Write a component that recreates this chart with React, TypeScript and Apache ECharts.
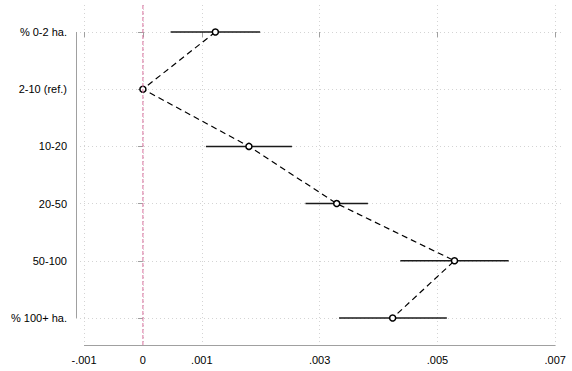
import React, { useEffect, useRef } from "react";
import * as echarts from "echarts";

const categories = ["% 0-2 ha.", "2-10 (ref.)", "10-20", "20-50", "50-100", "% 100+ ha."];
const estimates = [0.00123, 0, 0.0018, 0.00329, 0.00529, 0.00424];
const ciLow = [0.00047, null, 0.00107, 0.00276, 0.00437, 0.00333];
const ciHigh = [0.00199, null, 0.00253, 0.00382, 0.00621, 0.00516];
const xTicks = [-0.001, 0, 0.001, 0.003, 0.005, 0.007];
const xTickLabels = ["-.001", "0", ".001", ".003", ".005", ".007"];

const X_MIN = -0.001136;
const X_MAX = 0.007132;
const Y_MIN = -0.472;
const Y_MAX = 5.49;

export default function App() {
  const ref = useRef<HTMLDivElement>(null);
  useEffect(() => {
    if (!ref.current) return;
    const chart = echarts.init(ref.current, null, { renderer: "svg" });
    const yIdx = categories.map((_, i) => i);
    const pointData = estimates.map((v, i) => [v, i]);
    const ciData = categories
      .map((_, i) => (ciLow[i] == null ? null : [ciLow[i], ciHigh[i], i, i]))
      .filter((d) => d != null);
    const axisColor = "#a0a0a0";
    const font = "Liberation Sans, Arial, Helvetica, sans-serif";
    const crisp = (v: number) => Math.round(v - 0.5) + 0.5;
    const segmentSeries = (data: any[], stroke: string, lineWidth: number, dash: any, z: number, snap: boolean) => ({
      type: "custom",
      data,
      silent: true,
      clip: false,
      renderItem: (params: any, api: any) => {
        const p1 = api.coord([api.value(0), api.value(2)]);
        const p2 = api.coord([api.value(1), api.value(3)]);
        let x1 = p1[0], y1 = p1[1], x2 = p2[0], y2 = p2[1];
        if (snap) {
          if (Math.abs(x1 - x2) < 0.01) { x1 = crisp(x1 + 0.5); x2 = x1; }
          if (Math.abs(y1 - y2) < 0.01) { y1 = crisp(y1 - 0.5); y2 = y1; }
        }
        return {
          type: "line",
          shape: { x1, y1, x2, y2 },
          style: { stroke, lineWidth, lineDash: dash, fill: null },
        };
      },
      encode: { x: [0, 1], y: [2, 3] },
      z,
    });
    chart.setOption({
      animation: false,
      backgroundColor: "#ffffff",
      grid: { left: 76, right: 9, top: 5, bottom: 25, containLabel: false },
      xAxis: {
        type: "value",
        min: X_MIN,
        max: X_MAX,
        axisLine: { show: false },
        axisTick: {
          show: true,
          customValues: xTicks,
          length: 5,
          lineStyle: { color: axisColor, width: 1 },
        },
        axisLabel: {
          customValues: xTicks,
          margin: 8,
          fontSize: 11,
          fontFamily: font,
          color: "#000",
          formatter: (v: number) => {
            const k = xTicks.findIndex((t) => Math.abs(t - v) < 1e-9);
            return k >= 0 ? xTickLabels[k] : "";
          },
        },
        splitLine: {
          show: true,
          lineStyle: { color: "#d4d4d4", type: [1, 3], width: 1 },
        },
      },
      yAxis: {
        type: "value",
        inverse: true,
        min: Y_MIN,
        max: Y_MAX,
        axisLine: { show: false },
        axisTick: {
          show: true,
          customValues: yIdx,
          length: 5,
          lineStyle: { color: axisColor, width: 1 },
        },
        axisLabel: {
          customValues: yIdx,
          margin: 9,
          fontSize: 11,
          fontFamily: font,
          color: "#000",
          formatter: (v: number) => categories[Math.round(v)] ?? "",
        },
        splitLine: {
          show: true,
          lineStyle: { color: "#d4d4d4", type: [1, 3], width: 1 },
        },
      },
      series: [
        segmentSeries(
          [
            [xTicks[0], xTicks[xTicks.length - 1], Y_MAX, Y_MAX],
            [X_MIN, X_MIN, 0, categories.length - 1],
          ],
          axisColor, 1, null, 1, true
        ),
        segmentSeries([[0, 0, Y_MIN, Y_MAX]], "#d9739f", 1, [4, 2], 6, false),
        segmentSeries(ciData, "#1a1a1a", 1.5, null, 3, false),
        {
          type: "line",
          name: "estimate",
          data: pointData,
          symbol: "circle",
          symbolSize: 6,
          showSymbol: true,
          lineStyle: { color: "#000", width: 1.2, type: [6, 4] },
          itemStyle: { color: "#ffffff", borderColor: "#000", borderWidth: 1.5 },
          z: 5,
        },
      ],
    });
    return () => chart.dispose();
  }, []);
  return (
    <div
      ref={ref}
      style={{ position: "fixed", left: 0, top: 0, width: 572, height: 371, background: "#fff" }}
    />
  );
}
